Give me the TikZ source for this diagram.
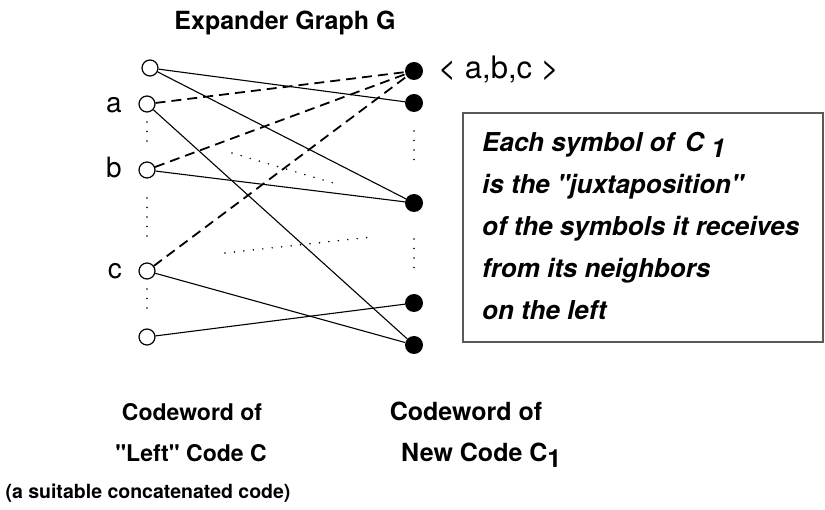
\documentclass[tikz,border=0pt]{standalone}
\usepackage{fontspec}
\setmainfont{TeX Gyre Heros}[Ligatures=TeXOff]
\begin{document}
\begin{tikzpicture}[x=1pt,y=-1pt,
  lnode/.style={circle, draw, line width=1.2pt, fill=white, minimum size=16pt, inner sep=0pt},
  rnode/.style={circle, fill=black, minimum size=18pt, inner sep=0pt},
  edge/.style={line width=1.1pt},
  dedge/.style={line width=1.8pt, dash pattern=on 10pt off 6pt},
  dots/.style={line width=1.7pt, dash pattern=on 0pt off 9.5pt, line cap=round},
  lbl/.style={font=\fontsize{28}{30}\selectfont, inner sep=0pt},
  btxt/.style={font=\fontsize{25}{30}\selectfont\bfseries, inner sep=0pt},
  ltxt/.style={font=\fontsize{23}{28}\selectfont\bfseries, inner sep=0pt},
  stxt/.style={font=\fontsize{19.5}{24}\selectfont\bfseries, inner sep=0pt},
  itxt/.style={font=\fontsize{26}{30}\selectfont\bfseries\itshape, inner sep=0pt, anchor=base west},
  boxstyle/.style={draw=black!65, line width=1.4pt}
]
\useasboundingbox (0,0) rectangle (825,510);

% left nodes
\node[lnode] (L1) at (150,68) {};
\node[lnode] (L2) at (147,104) {};
\node[lnode] (L3) at (147,170) {};
\node[lnode] (L4) at (147,271) {};
\node[lnode] (L5) at (147,337) {};
% right nodes
\node[rnode] (R1) at (414,71) {};
\node[rnode] (R2) at (414,103) {};
\node[rnode] (R3) at (414,203) {};
\node[rnode] (R4) at (414,303) {};
\node[rnode] (R5) at (414,345) {};

% solid edges
\draw[edge] (L1) -- (R2);
\draw[edge] (L1) -- (R3);
\draw[edge] (L2) -- (R5);
\draw[edge] (L3) -- (R3);
\draw[edge] (L4) -- (R5);
\draw[edge] (L5) -- (R4);
% dashed edges
\draw[dedge] (L2) -- (R1);
\draw[dedge] (L3) -- (R1);
\draw[dedge] (L4) -- (R1);

% vertical dots
\coordinate (v1a) at (147,122); \coordinate (v1b) at (147,142);
\coordinate (v2a) at (147,198); \coordinate (v2b) at (147,236);
\coordinate (v3a) at (147,289); \coordinate (v3b) at (147,308);
\coordinate (v4a) at (414,131); \coordinate (v4b) at (414,160);
\coordinate (v5a) at (414,239); \coordinate (v5b) at (414,277);
\draw[dots] (v1a) -- (v1b);
\draw[dots] (v2a) -- (v2b);
\draw[dots] (v3a) -- (v3b);
\draw[dots] (v4a) -- (v4b);
\draw[dots] (v5a) -- (v5b);
% diagonal dots
\coordinate (d1a) at (232,153); \coordinate (d1b) at (340,185);
\coordinate (d2a) at (225,253); \coordinate (d2b) at (372,237);
\draw[dots] (d1a) -- (d1b);
\draw[dots] (d2a) -- (d2b);

% labels
\node[lbl, anchor=base east] (la) at (122,113) {a};
\node[lbl, anchor=base east] (lb) at (122,178) {b};
\node[lbl, anchor=base east] (lc) at (122,279) {c};
\node[lbl, anchor=base west, font=\fontsize{31}{33}\selectfont] (abc) at (438,79) {< a,b,c >};

% title
\node[btxt, anchor=base] (title) at (285,30) {Expander Graph G};

% box
\draw[boxstyle] (463,113) rectangle (823,342);
\node[itxt] (t1) at (482,152) {Each symbol of\hspace{11pt}C\hspace{7pt}\raisebox{-6pt}{1}};
\node[itxt] (t2) at (482,194) {is the "juxtaposition"};
\node[itxt] (t3) at (482,236) {of the symbols it receives};
\node[itxt] (t4) at (482,278) {from its neighbors};
\node[itxt] (t5) at (482,320) {on the left};

% bottom texts
\node[ltxt, anchor=base] (c1) at (192,421) {Codeword of};
\node[ltxt, anchor=base] (c2) at (191,461) {"Left" Code C};
\node[stxt, anchor=base] (c3) at (148,498) {(a suitable concatenated code)};
\node[btxt, anchor=base] (n1) at (466,421) {Codeword of};
\node[btxt, anchor=base west] (n2) at (401,461) {New Code C\raisebox{-6pt}{1}};
\end{tikzpicture}
\end{document}
